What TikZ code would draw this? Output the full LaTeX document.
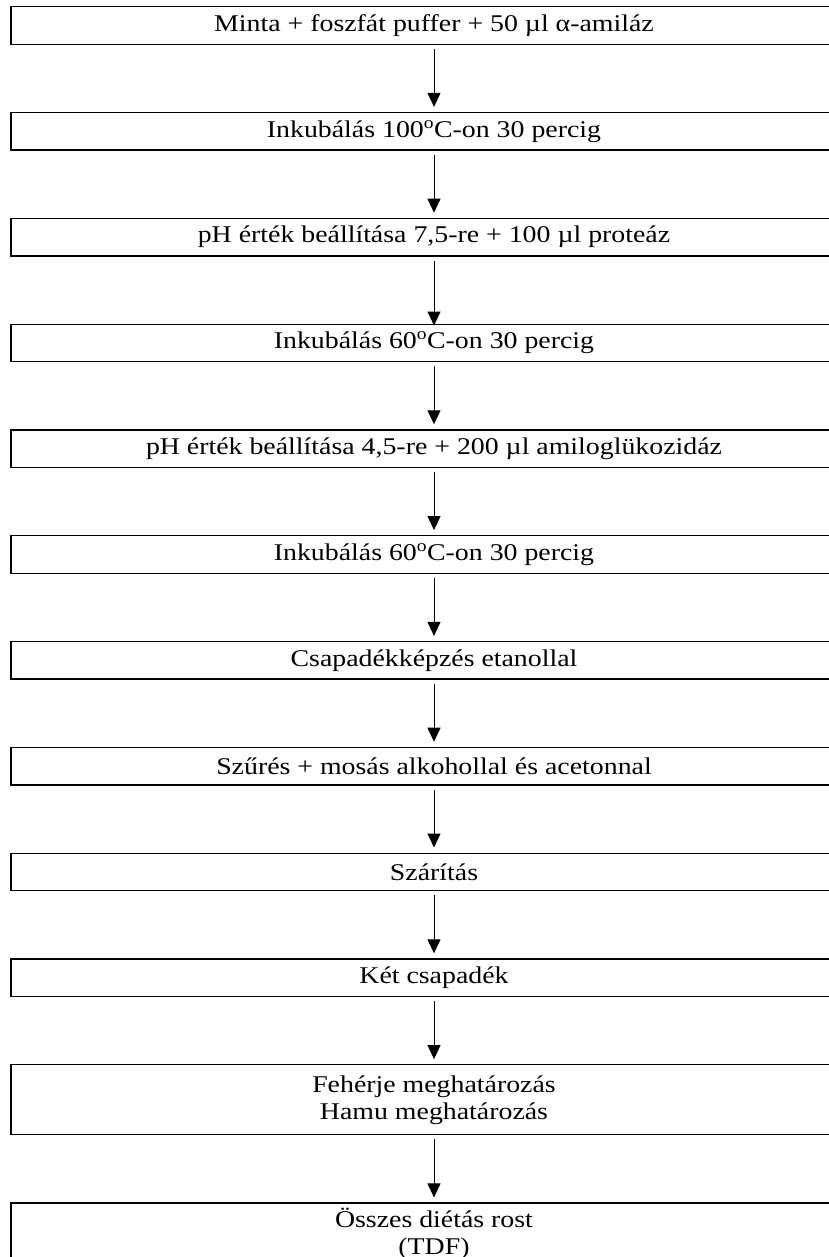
\documentclass[tikz,border=0pt]{standalone}
\usepackage{fontspec}
\setmainfont{Liberation Serif}[FakeStretch=1.16]
\usetikzlibrary{positioning,arrows.meta}

\tikzset{
  stepbox/.style={draw, line width=1.3pt, minimum width=846pt, minimum height=37.5pt,
    inner sep=2pt, align=center, font=\fontsize{24}{27}\selectfont},
  flow/.style={-{Triangle[length=14pt,width=13pt]}, line width=1pt,
    shorten >=5pt, shorten <=4pt},
}

\begin{document}
\begin{tikzpicture}[x=1pt, y=1pt, node distance=67pt]
\useasboundingbox (0,0) rectangle (828,-1257);
\node[stepbox] (minta) at (434,-25.5) {Minta + foszfát puffer + 50 µl α-amiláz};
\node[stepbox, below = of minta] (inkubA) {Inkubálás 100\textsuperscript{o}C-on 30 percig};
\node[stepbox, below = of inkubA] (proteaz) {pH érték beállítása 7,5-re + 100 µl proteáz};
\node[stepbox, below = of proteaz] (inkubB) {Inkubálás 60\textsuperscript{o}C-on 30 percig};
\node[stepbox, below = of inkubB] (amilo) {pH érték beállítása 4,5-re + 200 µl amiloglükozidáz};
\node[stepbox, below = of amilo] (inkubC) {Inkubálás 60\textsuperscript{o}C-on 30 percig};
\node[stepbox, below = of inkubC] (csapad) {Csapadékképzés etanollal};
\node[stepbox, below = of csapad] (szures) {Szűrés + mosás alkohollal és acetonnal};
\node[stepbox, below = of szures] (szarit) {Szárítás};
\node[stepbox, below = of szarit] (ketcs) {Két csapadék};
\node[stepbox, minimum height=70pt, below = of ketcs] (meghat) {Fehérje meghatározás\\Hamu meghatározás};
\node[stepbox, minimum height=70pt, text depth=14pt, below = of meghat] (tdf) {Összes diétás rost\\(TDF)};

% steps in order
\foreach \a/\b in {minta/inkubA, inkubA/proteaz, inkubB/amilo, amilo/inkubC,
  inkubC/csapad, csapad/szures, szures/szarit, szarit/ketcs, ketcs/meghat, meghat/tdf}
  \draw[flow] (\a) -- (\b);
\draw[flow, shorten >=-2pt] (proteaz) -- (inkubB);
\end{tikzpicture}
\end{document}
